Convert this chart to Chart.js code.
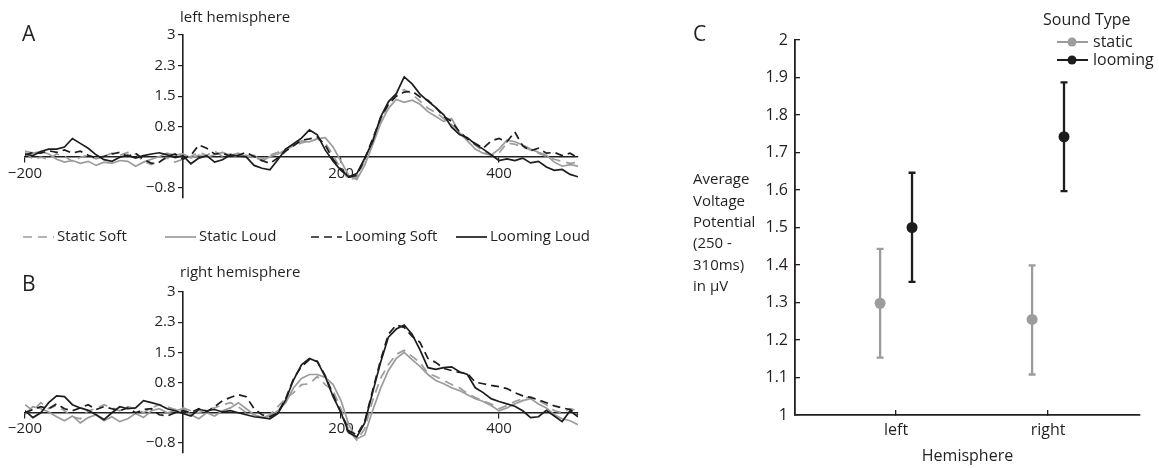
<!DOCTYPE html>
<html>
<head>
<meta charset="utf-8">
<script src="https://cdn.jsdelivr.net/npm/chart.js@4.4.0/dist/chart.umd.min.js"></script>
<style>
  body { margin: 0; background: #fff; }
  #wrap { position: relative; width: 1159px; height: 468px; }
  .box { position: absolute; }
</style>
</head>
<body>
<div id="wrap">
  <div class="box" style="left:0;top:0;width:600px;height:255px"><canvas id="chartA"></canvas></div>
  <div class="box" style="left:0;top:255px;width:600px;height:213px"><canvas id="chartB"></canvas></div>
  <div class="box" style="left:660px;top:0;width:499px;height:468px"><canvas id="chartC"></canvas></div>
</div>
<script>
// ---- data: ERP waveforms (panels A and B), microvolts every 10 ms
const timesMs = [-200, -190, -180, -170, -160, -150, -140, -130, -120, -110,
  -100, -90, -80, -70, -60, -50, -40, -30, -20, -10,
  0, 10, 20, 30, 40, 50, 60, 70, 80, 90,
  100, 110, 120, 130, 140, 150, 160, 170, 180, 190,
  200, 210, 220, 230, 240, 250, 260, 270, 280, 290,
  300, 310, 320, 330, 340, 350, 360, 370, 380, 390,
  400, 410, 420, 430, 440, 450, 460, 470, 480, 490,
  500];

const seriesNames = ['Static Soft', 'Static Loud', 'Looming Soft', 'Looming Loud'];

// left hemisphere
const aStaticSoft = [0.12, -0.05, 0.0, -0.05, 0.08, 0.02, -0.1, 0.0, 0.05, -0.04,
  0.02, 0.1, 0.05, 0.12, 0.08, -0.1, -0.18, -0.1, -0.02, -0.12,
  -0.05, 0.02, 0.12, 0.05, 0.15, 0.02, 0.08, 0.0, 0.05, -0.02,
  -0.05, 0.05, 0.12, 0.2, 0.28, 0.35, 0.4, 0.45, 0.35, 0.05,
  -0.3, -0.55, -0.5, -0.08, 0.42, 0.9, 1.3, 1.55, 1.66, 1.55,
  1.38, 1.2, 1.1, 0.95, 0.8, 0.62, 0.45, 0.3, 0.15, 0.05,
  0.1, 0.35, 0.32, 0.25, 0.18, 0.1, 0.02, -0.05, -0.1, -0.15,
  -0.12];
const aStaticLoud = [0.15, 0.1, 0.14, 0.08, -0.05, -0.12, -0.08, -0.15, -0.1, -0.2,
  -0.12, -0.15, -0.08, -0.1, -0.22, -0.12, -0.05, 0.02, 0.1, 0.05,
  0.08, -0.02, 0.05, 0.0, 0.06, 0.12, 0.05, 0.1, 0.0, 0.05,
  -0.1, 0.02, 0.08, 0.18, 0.3, 0.4, 0.38, 0.45, 0.48, 0.25,
  -0.1, -0.45, -0.55, -0.2, 0.3, 0.82, 1.2, 1.42, 1.35, 1.4,
  1.3, 1.12, 1.0, 0.88, 0.95, 0.6, 0.4, 0.2, 0.1, 0.05,
  0.2, 0.42, 0.38, 0.3, 0.2, 0.12, 0.05, -0.12, -0.22, -0.18,
  -0.22];
const aLoomSoft = [0.05, 0.12, 0.1, 0.16, 0.12, 0.18, 0.1, 0.15, 0.05, -0.02,
  0.02, 0.08, 0.12, 0.02, 0.1, -0.05, -0.15, -0.12, 0.02, 0.08,
  -0.05, 0.05, 0.3, 0.22, 0.08, 0.1, 0.02, 0.05, 0.12, 0.02,
  -0.08, -0.15, -0.02, 0.15, 0.28, 0.42, 0.45, 0.5, 0.3, -0.05,
  -0.3, -0.48, -0.45, -0.05, 0.45, 0.95, 1.3, 1.5, 1.6, 1.62,
  1.48, 1.4, 1.22, 1.0, 0.88, 0.62, 0.45, 0.34, 0.22, 0.4,
  0.46, 0.38, 0.62, 0.28, 0.16, 0.22, 0.1, 0.12, 0.04, 0.1,
  -0.02];
const aLoomLoud = [0.08, 0.04, 0.14, 0.2, 0.2, 0.25, 0.46, 0.34, 0.22, 0.06,
  -0.06, -0.1, 0.0, 0.05, -0.02, 0.04, 0.08, 0.11, 0.06, -0.01,
  0.04, -0.16, -0.02, 0.04, -0.12, -0.06, 0.06, 0.03, 0.01, -0.2,
  -0.27, -0.31, -0.06, 0.2, 0.33, 0.47, 0.67, 0.55, 0.18, -0.1,
  -0.32, -0.48, -0.4, -0.02, 0.38, 0.98, 1.36, 1.56, 1.97, 1.8,
  1.55, 1.38, 1.22, 1.04, 0.74, 0.56, 0.48, 0.32, 0.2, 0.06,
  -0.08, -0.04, -0.08, -0.02, -0.14, -0.1, -0.24, -0.32, -0.3, -0.42,
  -0.48];

// right hemisphere
const bStaticSoft = [0.2, 0.05, 0.25, 0.1, 0.18, 0.05, -0.1, -0.15, 0.05, 0.1,
  0.2, 0.12, 0.05, 0.15, 0.1, 0.0, 0.12, 0.2, 0.15, 0.08,
  0.12, 0.05, 0.0, 0.08, 0.12, 0.2, 0.25, 0.15, 0.0, -0.05,
  -0.12, -0.05, 0.15, 0.35, 0.5, 0.7, 0.72, 0.9, 0.7, 0.55,
  0.1, -0.45, -0.68, -0.4, 0.3, 0.85, 1.2, 1.45, 1.55, 1.4,
  1.25, 0.98, 0.9, 0.8, 0.7, 0.62, 0.48, 0.38, 0.3, 0.22,
  0.1, 0.18, 0.28, 0.35, 0.4, 0.3, 0.2, 0.05, 0.0, 0.1,
  0.05];
const bStaticLoud = [-0.05, 0.15, 0.1, 0.02, -0.1, -0.2, -0.08, -0.25, -0.12, -0.05,
  -0.2, -0.1, -0.22, -0.15, -0.02, -0.12, 0.05, 0.1, 0.0, 0.05,
  0.1, -0.05, -0.15, 0.0, -0.08, 0.05, 0.12, 0.25, 0.1, -0.05,
  -0.12, -0.08, 0.05, 0.25, 0.62, 0.85, 0.95, 0.95, 0.88, 0.7,
  0.3, -0.3, -0.65, -0.55, 0.05, 0.6, 1.05, 1.35, 1.5, 1.32,
  1.15, 0.95, 0.8, 0.72, 0.62, 0.55, 0.45, 0.35, 0.28, 0.18,
  0.05, 0.12, 0.22, 0.3, 0.35, 0.22, 0.12, -0.05, -0.15, -0.2,
  -0.3];
const bLoomSoft = [0.0, 0.08, 0.15, 0.1, 0.22, 0.1, 0.05, 0.12, 0.2, 0.08,
  0.15, 0.1, 0.05, 0.12, 0.0, 0.08, 0.1, -0.05, -0.08, 0.0,
  0.05, 0.0, 0.1, 0.02, 0.15, 0.3, 0.38, 0.45, 0.4, 0.1,
  -0.05, -0.1, 0.0, 0.35, 0.85, 1.15, 1.32, 1.28, 0.92, 0.45,
  0.0, -0.45, -0.55, -0.22, 0.55, 1.3, 1.95, 2.18, 2.12, 1.9,
  1.75, 1.35, 1.25, 1.1, 1.05, 1.0, 0.98, 0.76, 0.72, 0.68,
  0.65, 0.6, 0.5, 0.42, 0.38, 0.32, 0.25, 0.17, 0.12, 0.08,
  -0.05];
const bLoomLoud = [0.05, -0.12, 0.0, 0.25, 0.42, 0.4, 0.2, 0.12, 0.06, -0.05,
  -0.17, 0.0, 0.15, 0.1, 0.12, 0.3, 0.25, 0.2, 0.1, 0.05,
  -0.02, -0.08, 0.08, 0.05, 0.08, 0.02, 0.05, 0.0, -0.05, -0.1,
  -0.12, -0.15, -0.02, 0.32, 0.82, 1.19, 1.35, 1.27, 0.9, 0.4,
  0.0, -0.5, -0.6, -0.25, 0.5, 1.24, 1.88, 2.08, 2.18, 1.95,
  1.56, 1.12, 1.08, 1.12, 1.14, 1.02, 0.95, 0.62, 0.5, 0.35,
  0.28, 0.22, 0.16, 0.05, -0.12, -0.1, 0.06, -0.08, -0.22, 0.05,
  -0.1];

const xTicksAB = [-200, 200, 400];
const xTickLabelsAB = ['\u2212200', '200', '400'];
const yTicksAB = [-0.75, 0.75, 1.5, 2.25, 3];
const yTickLabelsAB = ['\u22120.8', '0.8', '1.5', '2.3', '3'];

// ---- data: panel C, mean voltage 250-310 ms with error bars
const hemispheres = ['left', 'right'];
const soundTypes = ['static', 'looming'];
const staticMean = [1.298, 1.255];
const staticLow = [1.153, 1.108];
const staticHigh = [1.443, 1.399];
const loomingMean = [1.5, 1.742];
const loomingLow = [1.355, 1.597];
const loomingHigh = [1.646, 1.887];
const yTicksC = [1, 1.1, 1.2, 1.3, 1.4, 1.5, 1.6, 1.7, 1.8, 1.9, 2];
const yTickLabelsC = ['1', '1.1', '1.2', '1.3', '1.4', '1.5', '1.6', '1.7', '1.8', '1.9', '2'];
const yTitleC = ['Average', 'Voltage', 'Potential', '(250 -', '310ms)', 'in \u00b5V'];

// ---- styles
const FONT = "'Open Sans', sans-serif";
const textColor = '#231f20';
const grayLine = '#9c9c9c';
const blackLine = '#1d1d1d';
const seriesColors = [grayLine, grayLine, blackLine, blackLine];
const seriesDashes = [[9, 6], [], [8, 5], []];
const legendXAB = [23, 165, 311, 456];
const dodgeC = [-0.105, 0.105];

Chart.defaults.font.family = FONT;
Chart.defaults.color = textColor;

function panelText(letter, title, letterY, titleY, legendY) {
  return {
    id: 'panelText',
    afterDraw(chart) {
      const ctx = chart.ctx;
      const x0 = chart.scales.x.getPixelForValue(0);
      ctx.save();
      ctx.fillStyle = textColor;
      ctx.textBaseline = 'middle';
      ctx.textAlign = 'left';
      ctx.font = '21px ' + FONT;
      ctx.fillText(letter, 22, letterY);
      ctx.font = '15px ' + FONT;
      ctx.fillText(title, x0 - 3, titleY);
      if (legendY) {
        chart.data.datasets.forEach((ds, i) => {
          const lx = legendXAB[i];
          ctx.strokeStyle = ds.borderColor;
          ctx.lineWidth = ds.borderWidth;
          ctx.setLineDash(ds.borderDash);
          ctx.beginPath();
          ctx.moveTo(lx, legendY);
          ctx.lineTo(lx + 31, legendY);
          ctx.stroke();
          ctx.setLineDash([]);
          ctx.fillText(ds.label, lx + 34, legendY);
        });
      }
      ctx.restore();
    }
  };
}

function makeErpChart(id, series, pad, plugin) {
  return new Chart(document.getElementById(id), {
    type: 'line',
    data: {
      datasets: seriesNames.map((name, i) => ({
        label: name,
        data: timesMs.map((t, j) => ({x: t, y: series[i][j]})),
        borderColor: seriesColors[i],
        borderDash: seriesDashes[i],
        borderWidth: 1.7,
        pointRadius: 0,
        tension: 0,
        order: seriesNames.length - 1 - i
      }))
    },
    options: {
      responsive: true,
      maintainAspectRatio: false,
      animation: false,
      layout: {padding: pad},
      plugins: {legend: {display: false}, tooltip: {enabled: false}},
      scales: {
        x: {
          type: 'linear', min: -200, max: 500,
          position: {y: 0},
          afterBuildTicks: s => { s.ticks = xTicksAB.map(v => ({value: v})); },
          ticks: {callback: (v, i) => xTickLabelsAB[i], font: {size: 15}, color: textColor, padding: 2, maxRotation: 0, autoSkip: false},
          grid: {drawOnChartArea: false, drawTicks: true, tickLength: 5, color: textColor, lineWidth: 1.2},
          border: {display: true, color: textColor, width: 1.6}
        },
        y: {
          type: 'linear', min: -1, max: 3,
          position: {x: 0},
          afterBuildTicks: s => { s.ticks = yTicksAB.map(v => ({value: v})); },
          ticks: {callback: (v, i) => yTickLabelsAB[i] + '\u2002', font: {size: 15}, color: textColor, autoSkip: false},
          grid: {drawOnChartArea: false, drawTicks: true, tickLength: 4, color: textColor, lineWidth: 1.2},
          border: {display: true, color: textColor, width: 1.6}
        }
      }
    },
    plugins: [plugin]
  });
}

makeErpChart('chartA', [aStaticSoft, aStaticLoud, aLoomSoft, aLoomLoud],
  {left: 25, right: 22, top: 35, bottom: 57},
  panelText('A', 'left hemisphere', 35, 18, 237));
makeErpChart('chartB', [bStaticSoft, bStaticLoud, bLoomSoft, bLoomLoud],
  {left: 25, right: 22, top: 37, bottom: 15},
  panelText('B', 'right hemisphere', 30, 18, null));

// ---- panel C
const errorBars = {
  id: 'errorBars',
  beforeDatasetsDraw(chart) {
    const {ctx, scales: {x, y}} = chart;
    ctx.save();
    chart.data.datasets.forEach(ds => {
      ctx.strokeStyle = ds.borderColor;
      ctx.lineWidth = 2.3;
      ds.data.forEach(p => {
        const px = x.getPixelForValue(p.x);
        const top = y.getPixelForValue(p.yMax);
        const bot = y.getPixelForValue(p.yMin);
        ctx.beginPath();
        ctx.moveTo(px, top); ctx.lineTo(px, bot);
        ctx.moveTo(px - 3.5, top); ctx.lineTo(px + 3.5, top);
        ctx.moveTo(px - 3.5, bot); ctx.lineTo(px + 3.5, bot);
        ctx.stroke();
      });
    });
    ctx.restore();
  }
};

const panelCText = {
  id: 'panelCText',
  afterDraw(chart) {
    const ctx = chart.ctx;
    ctx.save();
    ctx.fillStyle = textColor;
    ctx.textBaseline = 'middle';
    ctx.textAlign = 'left';
    ctx.font = '21px ' + FONT;
    ctx.fillText('C', 33, 35);
    ctx.font = '15px ' + FONT;
    yTitleC.forEach((line, i) => ctx.fillText(line, 33, 180 + i * 21.4));
    ctx.font = '16px ' + FONT;
    ctx.fillText('Sound Type', 383, 20);
    chart.data.datasets.forEach((ds, i) => {
      const ly = 42 + i * 18;
      ctx.strokeStyle = ds.borderColor;
      ctx.lineWidth = 2;
      ctx.beginPath();
      ctx.moveTo(397, ly); ctx.lineTo(428, ly);
      ctx.stroke();
      ctx.fillStyle = ds.backgroundColor;
      ctx.beginPath();
      ctx.arc(412, ly, 4.5, 0, Math.PI * 2);
      ctx.fill();
      ctx.fillStyle = textColor;
      ctx.fillText(ds.label, 433, ly);
    });
    ctx.restore();
  }
};

function seriesC(k, means, lows, highs) {
  return hemispheres.map((h, i) => ({x: i + 1 + dodgeC[k], y: means[i], yMin: lows[i], yMax: highs[i]}));
}

new Chart(document.getElementById('chartC'), {
  type: 'scatter',
  data: {
    datasets: [
      {label: soundTypes[0], data: seriesC(0, staticMean, staticLow, staticHigh),
       backgroundColor: grayLine, borderColor: grayLine, pointRadius: 5.5, pointBorderWidth: 0},
      {label: soundTypes[1], data: seriesC(1, loomingMean, loomingLow, loomingHigh),
       backgroundColor: blackLine, borderColor: blackLine, pointRadius: 5.5, pointBorderWidth: 0}
    ]
  },
  options: {
    responsive: true,
    maintainAspectRatio: false,
    animation: false,
    layout: {padding: {left: 95, right: 19, top: 40, bottom: 0}},
    plugins: {legend: {display: false}, tooltip: {enabled: false}},
    scales: {
      x: {
        type: 'linear', min: 0.335, max: 2.605,
        afterBuildTicks: s => { s.ticks = hemispheres.map((h, i) => ({value: i + 1})); },
        afterFit: s => { s.height = 53; },
        ticks: {callback: (v, i) => hemispheres[i], font: {size: 16}, color: textColor, padding: 11, maxRotation: 0},
        grid: {drawOnChartArea: false, drawTicks: true, tickLength: -5, color: textColor, lineWidth: 1.3},
        border: {display: true, color: textColor, width: 1.8},
        title: {display: true, text: 'Hemisphere', font: {size: 16}, color: textColor, padding: {top: 0, bottom: 2}}
      },
      y: {
        type: 'linear', min: 1, max: 2,
        afterBuildTicks: s => { s.ticks = yTicksC.map(v => ({value: v})); },
        afterFit: s => { s.width = 40; },
        ticks: {callback: (v, i) => yTickLabelsC[i], font: {size: 16}, color: textColor, padding: 12},
        grid: {drawOnChartArea: false, drawTicks: true, tickLength: -5, color: textColor, lineWidth: 1.3},
        border: {display: true, color: textColor, width: 1.8}
      }
    }
  },
  plugins: [errorBars, panelCText]
});
</script>
</body>
</html>
